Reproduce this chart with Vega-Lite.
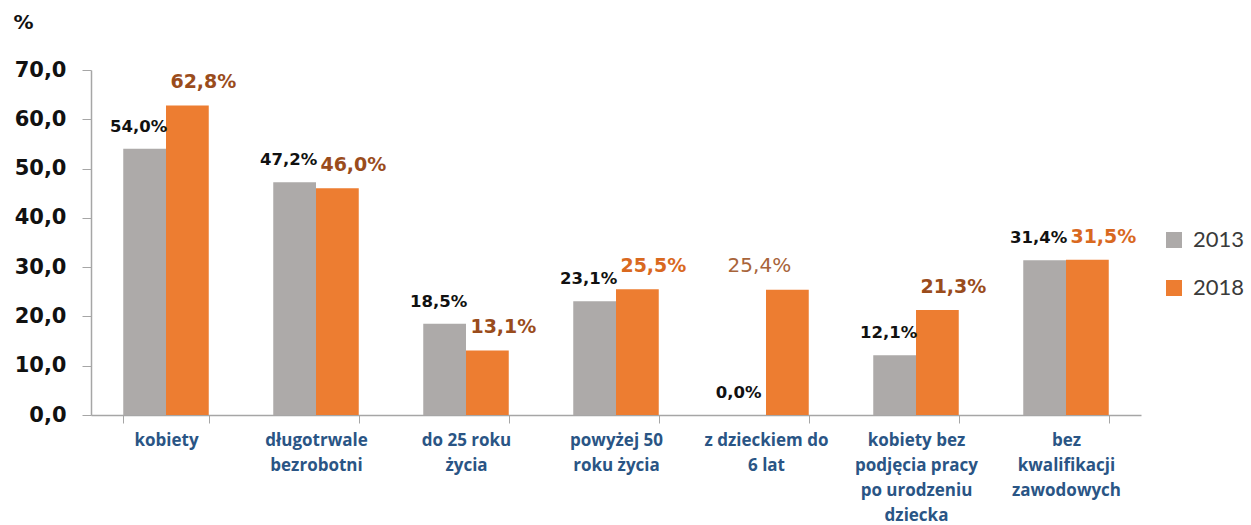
{
  "$schema": "https://vega.github.io/schema/vega-lite/v6.json",
  "autosize": {"type": "none"},
  "padding": {"left": 91, "top": 70, "right": 110, "bottom": 110},
  "width": 1050,
  "height": 345,
  "background": "white",
  "config": {"view": {"stroke": null}},
  "data": {
    "values": [
      {"category": "kobiety", "year": "2013", "value": 54.0},
      {"category": "kobiety", "year": "2018", "value": 62.8},
      {"category": "długotrwale|bezrobotni", "year": "2013", "value": 47.2},
      {"category": "długotrwale|bezrobotni", "year": "2018", "value": 46.0},
      {"category": "do 25 roku|życia", "year": "2013", "value": 18.5},
      {"category": "do 25 roku|życia", "year": "2018", "value": 13.1},
      {"category": "powyżej 50|roku życia", "year": "2013", "value": 23.1},
      {"category": "powyżej 50|roku życia", "year": "2018", "value": 25.5},
      {"category": "z dzieckiem do|6 lat", "year": "2013", "value": 0.0},
      {"category": "z dzieckiem do|6 lat", "year": "2018", "value": 25.4},
      {"category": "kobiety bez|podjęcia pracy|po urodzeniu|dziecka", "year": "2013", "value": 12.1},
      {"category": "kobiety bez|podjęcia pracy|po urodzeniu|dziecka", "year": "2018", "value": 21.3},
      {"category": "bez|kwalifikacji|zawodowych", "year": "2013", "value": 31.4},
      {"category": "bez|kwalifikacji|zawodowych", "year": "2018", "value": 31.5}
    ]
  },
  "transform": [
    {"calculate": "replace(format(datum.value, '.1f'), '.', ',') + '%'", "as": "label"}
  ],
  "encoding": {
    "x": {
      "field": "category",
      "type": "nominal",
      "sort": null,
      "scale": {"paddingInner": 0.43, "paddingOuter": 0.215},
      "axis": {
        "title": null,
        "labelAngle": 0,
        "labelExpr": "split(datum.label, '|')",
        "labelFont": "Open Sans",
        "labelFontWeight": "bold",
        "labelFontSize": 17,
        "labelColor": "#2A5585",
        "labelLineHeight": 25,
        "labelPadding": 9,
        "labelLimit": 200,
        "tickBand": "extent",
        "tickSize": 8,
        "tickColor": "#A6A6A6",
        "domainColor": "#A6A6A6",
        "domainWidth": 1.5
      }
    },
    "xOffset": {"field": "year", "type": "nominal", "scale": {"paddingInner": 0}},
    "y": {
      "field": "value",
      "type": "quantitative",
      "scale": {"domain": [0, 70], "nice": false},
      "axis": {
        "values": [0, 10, 20, 30, 40, 50, 60, 70],
        "labelExpr": "replace(format(datum.value, '.1f'), '.', ',')",
        "labelFont": "DejaVu Sans",
        "labelFontWeight": "bold",
        "labelFontSize": 21,
        "labelColor": "#111111",
        "labelPadding": 16,
        "tickSize": 9,
        "tickColor": "#A6A6A6",
        "domainColor": "#A6A6A6",
        "domainWidth": 1.5,
        "grid": false,
        "title": "%",
        "titleAngle": 0,
        "titleAlign": "left",
        "titleBaseline": "middle",
        "titleX": -78,
        "titleY": -48,
        "titleFont": "DejaVu Sans",
        "titleFontWeight": "bold",
        "titleFontSize": 20,
        "titleColor": "#111111"
      }
    }
  },
  "layer": [
    {
      "mark": {"type": "bar"},
      "encoding": {
        "color": {
          "field": "year",
          "type": "nominal",
          "scale": {"domain": ["2013", "2018"], "range": ["#ADAAA9", "#ED7D31"]},
          "legend": {
            "title": null,
            "orient": "none",
            "legendX": 1072,
            "legendY": 159,
            "symbolType": "square",
            "symbolSize": 256,
            "symbolStrokeWidth": 0,
            "labelFont": "Lato",
            "labelFontSize": 22,
            "labelColor": "#3A3A3A",
            "labelOffset": 8,
            "rowPadding": 26
          }
        }
      }
    },
    {
      "transform": [{"filter": "datum.year == '2013'"}],
      "mark": {"type": "text", "baseline": "middle", "dy": -22, "dx": -6, "font": "DejaVu Sans", "fontWeight": "bold", "fontSize": 16.5, "color": "#111111"},
      "encoding": {
        "text": {"field": "label"}
      }
    },
    {
      "transform": [{"filter": "datum.year == '2018' && datum.value != 25.4"}],
      "mark": {"type": "text", "baseline": "middle", "dy": -23, "dx": 16, "font": "DejaVu Sans", "fontWeight": "bold", "fontSize": 19},
      "encoding": {
        "text": {"field": "label"},
        "color": {
          "condition": {"test": "datum.value == 25.5 || datum.value == 31.5", "value": "#D9691F"},
          "value": "#9A4C1C"
        }
      }
    },
    {
      "transform": [{"filter": "datum.year == '2018' && datum.value == 25.4"}],
      "mark": {"type": "text", "baseline": "middle", "dy": -24, "dx": -28, "font": "DejaVu Sans", "fontWeight": "normal", "fontSize": 20, "color": "#A8643A"},
      "encoding": {
        "text": {"field": "label"}
      }
    }
  ]
}
